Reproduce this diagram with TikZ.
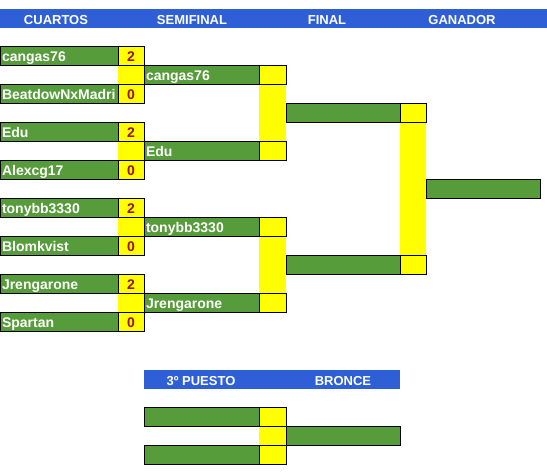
\documentclass[tikz,border=0pt]{standalone}
\usepackage{fontspec}
\setmainfont{Liberation Sans}
\usetikzlibrary{positioning,backgrounds}
\definecolor{verde}{RGB}{87,156,58}
\definecolor{amarillo}{RGB}{255,255,0}
\definecolor{azul}{RGB}{46,95,214}
\definecolor{rojo}{RGB}{158,16,16}
\tikzset{
  barra/.style={
    rectangle, fill=azul, anchor=north west, minimum height=19pt,
    inner sep=0pt, outer sep=0pt},
  titulo/.style={
    anchor=base, text=white, inner sep=0pt,
    font=\fontsize{13}{15}\selectfont\bfseries},
  jugador/.style={
    rectangle, draw, line width=0.8pt, fill=verde, anchor=north west,
    text=white, align=left, text width=#1, inner xsep=2pt, inner ysep=0pt,
    minimum height=19pt, text height=12pt, text depth=0.5pt, outer sep=0pt,
    font=\fontsize{14}{16}\selectfont\bfseries},
  jugador/.default=110pt,
  marcador/.style={
    rectangle, draw, line width=0.8pt, fill=amarillo, text=rojo,
    minimum width=#1, minimum height=19pt, inner sep=0pt,
    text height=12pt, text depth=0.5pt, outer sep=0pt,
    font=\fontsize{14}{16}\selectfont\bfseries},
  marcador/.default=26pt,
  tramo/.style={fill=amarillo}
}
\begin{document}
\begin{tikzpicture}[x=1pt,y=-1pt]
\useasboundingbox (0,0) rectangle (547,474);

% cabecera
\node[barra, minimum width=547pt] (cab) at (0,9) {};
\node[titulo] (tcuartos) at (56,24) {CUARTOS};
\node[titulo] (tsemi) at (192,24) {SEMIFINAL};
\node[titulo] (tfinal) at (327,24) {FINAL};
\node[titulo] (tganador) at (462,24) {GANADOR};

% cuartos
\node[jugador=114pt] (c1) at (0,46) {cangas76};
\node[marcador, right=0pt of c1] (c1p) {2};
\node[jugador=114pt] (c2) at (0,84) {BeatdowNxMadri};
\node[marcador, right=0pt of c2] (c2p) {0};
\node[jugador=114pt] (c3) at (0,122) {Edu};
\node[marcador, right=0pt of c3] (c3p) {2};
\node[jugador=114pt] (c4) at (0,160) {Alexcg17};
\node[marcador, right=0pt of c4] (c4p) {0};
\node[jugador=114pt] (c5) at (0,198) {tonybb3330};
\node[marcador, right=0pt of c5] (c5p) {2};
\node[jugador=114pt] (c6) at (0,236) {Blomkvist};
\node[marcador, right=0pt of c6] (c6p) {0};
\node[jugador=114pt] (c7) at (0,274) {Jrengarone};
\node[marcador, right=0pt of c7] (c7p) {2};
\node[jugador=114pt] (c8) at (0,312) {Spartan};
\node[marcador, right=0pt of c8] (c8p) {0};

% semifinal
\node[jugador=111pt] (s1) at (144,65) {cangas76};
\node[marcador=27pt, right=0pt of s1] (s1p) {};
\node[jugador=111pt] (s2) at (144,141) {Edu};
\node[marcador=27pt, right=0pt of s2] (s2p) {};
\node[jugador=111pt] (s3) at (144,217) {tonybb3330};
\node[marcador=27pt, right=0pt of s3] (s3p) {};
\node[jugador=111pt] (s4) at (144,293) {Jrengarone};
\node[marcador=27pt, right=0pt of s4] (s4p) {};

% final
\node[jugador] (f1) at (286,103) {};
\node[marcador, right=0pt of f1] (f1p) {};
\node[jugador] (f2) at (286,255) {};
\node[marcador, right=0pt of f2] (f2p) {};

% ganador
\node[jugador] (g) at (426,179) {};

% 3er puesto
\node[barra, minimum width=256pt] (cabb) at (144,370) {};
\node[titulo] (tpuesto) at (201,385) {3º PUESTO};
\node[titulo] (tbronce) at (343,385) {BRONCE};
\node[jugador=111pt] (b1) at (144,407) {};
\node[marcador=27pt, right=0pt of b1] (b1p) {};
\node[jugador=111pt] (b2) at (144,445) {};
\node[marcador=27pt, right=0pt of b2] (b2p) {};
\node[jugador] (bronce) at (286,426) {};

% tramos amarillos
\begin{scope}[on background layer]
  \fill[tramo] (c1p.south west) rectangle (c2p.north east);
  \fill[tramo] (c3p.south west) rectangle (c4p.north east);
  \fill[tramo] (c5p.south west) rectangle (c6p.north east);
  \fill[tramo] (c7p.south west) rectangle (c8p.north east);
  \fill[tramo] (s1p.south west) rectangle (s2p.north east);
  \fill[tramo] (s3p.south west) rectangle (s4p.north east);
  \fill[tramo] (f1p.south west) rectangle (f2p.north east);
  \fill[tramo] (b1p.south west) rectangle (b2p.north east);
\end{scope}

\end{tikzpicture}
\end{document}
